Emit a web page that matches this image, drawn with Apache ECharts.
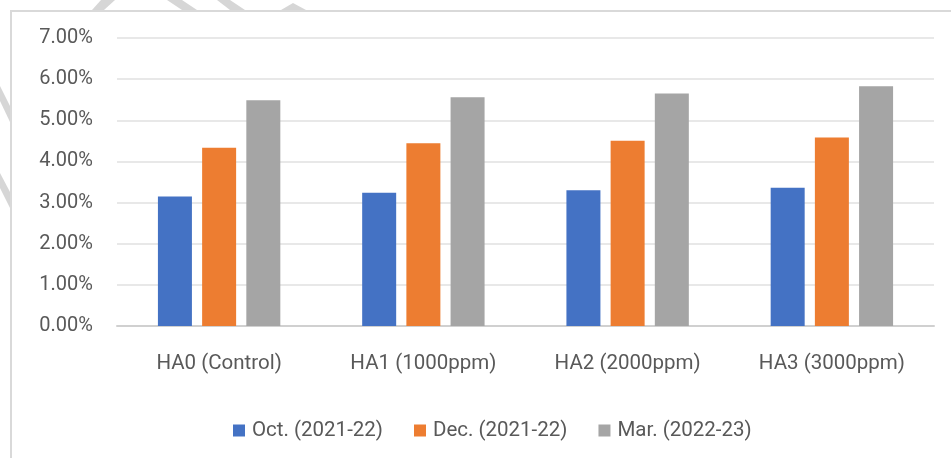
<!DOCTYPE html>
<html>
<head>
<meta charset="utf-8">
<script src="https://cdn.jsdelivr.net/npm/echarts@6/dist/echarts.min.js"></script>
<style>
  html, body { margin: 0; padding: 0; background: #fff; }
  #chart { width: 951px; height: 458px; }
</style>
</head>
<body>
<div id="chart"></div>
<script>
  // treatments and sampling months
  var categories = ['HA0 (Control)', 'HA1 (1000ppm)', 'HA2 (2000ppm)', 'HA3 (3000ppm)']
  var octData = [3.15, 3.24, 3.30, 3.36]
  var decData = [4.33, 4.44, 4.50, 4.58]
  var marData = [5.49, 5.56, 5.65, 5.83]
  var seriesNames = ['Oct. (2021-22)', 'Dec. (2021-22)', 'Mar. (2022-23)']
  var colors = ['#4472c4', '#ed7d31', '#a5a5a5']

  var myChart = echarts.init(document.getElementById('chart'))
  var textColor = '#595959'
  var font = 'Roboto, "Liberation Sans", sans-serif'
  var stripe = '#d6d6d6'

  function barSeries(name, data, color) {
    return {
      name: name,
      type: 'bar',
      data: data,
      barWidth: 34,
      barGap: '30%',
      itemStyle: { color: color },
      emphasis: { disabled: true }
    }
  }

  // bits of the page watermark showing outside the chart frame
  function band(points) {
    return { type: 'polygon', shape: { points: points }, style: { fill: stripe }, silent: true, z: -1 }
  }

  var option = {
    animation: false,
    graphic: [
      band([[92, 10], [104, 10], [115, 0], [101, 0]]),
      band([[167, 0], [182, 0], [197, 10], [182, 10]]),
      band([[217, 0], [230, 0], [245, 10], [230, 10]]),
      band([[281, 10], [293, 3], [306, 10]]),
      band([[0, 86], [0, 101], [10, 122], [10, 106]]),
      band([[0, 173], [0, 188], [10, 208], [10, 192]]),
      {
        type: 'rect',
        shape: { x: 11, y: 11, width: 960, height: 470 },
        style: { fill: 'none', stroke: '#d9d9d9', lineWidth: 2 },
        silent: true
      }
    ],
    grid: {
      left: 117,
      right: 17,
      top: 38,
      bottom: 132
    },
    legend: {
      left: 228,
      top: 415,
      itemWidth: 12,
      itemHeight: 12,
      itemGap: 31,
      icon: 'rect',
      textStyle: { color: textColor, fontSize: 20.5, fontFamily: font, padding: [0, 0, 0, 2] },
      data: seriesNames
    },
    xAxis: {
      type: 'category',
      data: categories,
      axisTick: { show: false },
      axisLine: { show: true, lineStyle: { color: '#d0d0d0', width: 2 } },
      axisLabel: {
        color: textColor,
        fontSize: 20.5,
        fontFamily: font,
        margin: 27
      }
    },
    yAxis: {
      type: 'value',
      min: 0,
      max: 7,
      interval: 1,
      axisLine: { show: false },
      axisTick: { show: false },
      splitLine: { lineStyle: { color: '#e0e0e0', width: 1.5 } },
      axisLabel: {
        color: textColor,
        fontSize: 20,
        fontFamily: font,
        margin: 24,
        formatter: function (v) { return v.toFixed(2) + '%' }
      }
    },
    series: [
      barSeries(seriesNames[0], octData, colors[0]),
      barSeries(seriesNames[1], decData, colors[1]),
      barSeries(seriesNames[2], marData, colors[2])
    ]
  }
  myChart.setOption(option)
</script>
</body>
</html>
